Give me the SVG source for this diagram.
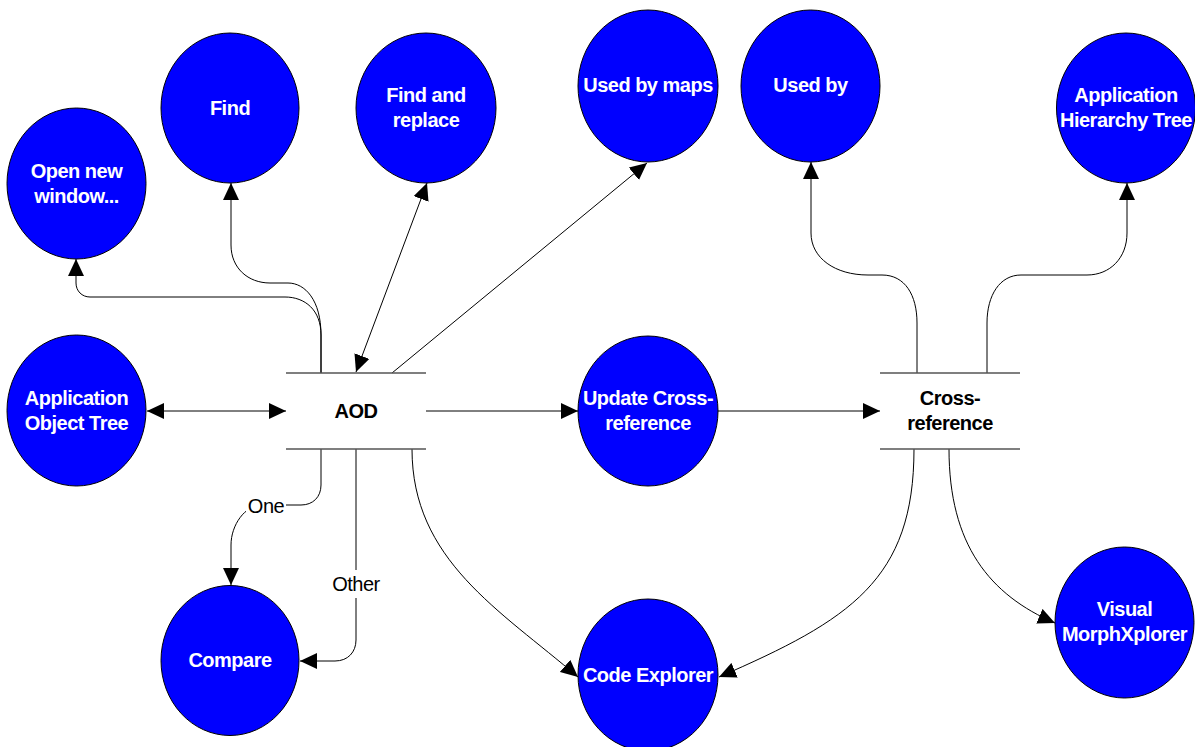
<svg xmlns="http://www.w3.org/2000/svg" width="1195" height="747" viewBox="0 0 1195 747">
<style>
.n ellipse{fill:#0000FF;stroke:#000;stroke-width:1}
.n text{font-family:"Liberation Sans",Arial,sans-serif;font-weight:bold;font-size:20px;fill:#fff;text-anchor:middle;letter-spacing:-0.5px}
.s line{stroke:#555;stroke-width:1.5}
.s text{font-family:"Liberation Sans",Arial,sans-serif;font-weight:bold;font-size:20px;fill:#000;text-anchor:middle;letter-spacing:-0.5px}
.c path,.c line{fill:none;stroke:#000;stroke-width:1}
.a{marker-end:url(#ah)}
.b{marker-start:url(#ah);marker-end:url(#ah)}
.lbl{font-family:"Liberation Sans",Arial,sans-serif;font-size:20px;fill:#000;text-anchor:middle;letter-spacing:-0.5px}
</style>
<defs>
<marker id="ah" markerUnits="userSpaceOnUse" markerWidth="17" markerHeight="16" viewBox="0 0 17 16" refX="17" refY="8" orient="auto-start-reverse">
<path d="M0,0 L17,8 L0,16 z" fill="#000"/>
</marker>
</defs>
<rect width="1195" height="747" fill="#fff"/>

<g id="connectors" class="c">
<line class="b" x1="147" y1="411" x2="286" y2="411"/>
<line class="a" x1="426" y1="411" x2="578" y2="411"/>
<line class="a" x1="718" y1="411" x2="880" y2="411"/>
<path class="a" d="M321,373 V335 C321,310 305,297 285,297 H90 C82,297 76,291 76,283 V259"/>
<path class="a" d="M321,373 V335 C321,300 305,283 288,283 H270 C248,283 231,268 231,245 V183"/>
<line class="b" x1="356" y1="372" x2="427" y2="183"/>
<line class="a" x1="392" y1="373" x2="647" y2="163"/>
<path class="a" d="M321,449 V485 C321,497 313,505 301,505 H262 C245,505 231,525 231,545 V585"/>
<path class="a" d="M356,449 V640 C356,652 348,661 335,661 H300"/>
<path class="a" d="M412,449 C412,560 500,610 578,677"/>
<path class="a" d="M914,449 C914,580 850,620 719,677"/>
<path class="a" d="M949,449 C949,545 990,595 1055,623"/>
<path class="a" d="M917,373 V323 C917,295 905,275 882,275 H868 C835,275 811,258 811,233 V162"/>
<path class="a" d="M987,373 V323 C987,295 1000,275 1021,275 H1087 C1110,275 1127,258 1127,233 V183"/>
<rect x="246" y="494" width="40" height="22" fill="#fff"/>
<text class="lbl" x="266" y="513">One</text>
<rect x="331" y="570" width="51" height="28" fill="#fff"/>
<text class="lbl" x="356" y="591">Other</text>
</g>

<g id="aod" class="s">
<line x1="286" y1="373" x2="426" y2="373"/>
<line x1="286" y1="449" x2="426" y2="449"/>
<text x="356" y="418">AOD</text>
</g>
<g id="crossref" class="s">
<line x1="880" y1="373" x2="1020" y2="373"/>
<line x1="880" y1="449" x2="1020" y2="449"/>
<text x="950" y="405">Cross-</text>
<text x="950" y="430">reference</text>
</g>

<g id="open" class="n"><ellipse cx="76.5" cy="183.5" rx="69.5" ry="75.5"/><text x="76.5" y="178">Open new</text><text x="76.5" y="203">window...</text></g>
<g id="find" class="n"><ellipse cx="230" cy="108" rx="69" ry="75"/><text x="230" y="115">Find</text></g>
<g id="findreplace" class="n"><ellipse cx="426" cy="108" rx="70" ry="75"/><text x="426" y="102">Find and</text><text x="426" y="127">replace</text></g>
<g id="usedbymaps" class="n"><ellipse cx="648" cy="86" rx="70" ry="76"/><text x="648" y="92">Used by maps</text></g>
<g id="usedby" class="n"><ellipse cx="810.5" cy="86" rx="69.5" ry="76"/><text x="810.5" y="92">Used by</text></g>
<g id="aht" class="n"><ellipse cx="1126" cy="108" rx="69.5" ry="75"/><text x="1126" y="102">Application</text><text x="1126" y="127">Hierarchy Tree</text></g>
<g id="aot" class="n"><ellipse cx="76.5" cy="410.5" rx="69.5" ry="75.5"/><text x="76.5" y="405">Application</text><text x="76.5" y="430">Object Tree</text></g>
<g id="update" class="n"><ellipse cx="648" cy="411" rx="70" ry="75"/><text x="648" y="405">Update Cross-</text><text x="648" y="430">reference</text></g>
<g id="compare" class="n"><ellipse cx="230" cy="660.5" rx="69" ry="75"/><text x="230" y="667">Compare</text></g>
<g id="codeexplorer" class="n"><ellipse cx="648" cy="675" rx="70" ry="76"/><text x="648" y="682">Code Explorer</text></g>
<g id="visual" class="n"><ellipse cx="1124.5" cy="622.5" rx="69.5" ry="75.5"/><text x="1124.5" y="616">Visual</text><text x="1124.5" y="641">MorphXplorer</text></g>
</svg>
